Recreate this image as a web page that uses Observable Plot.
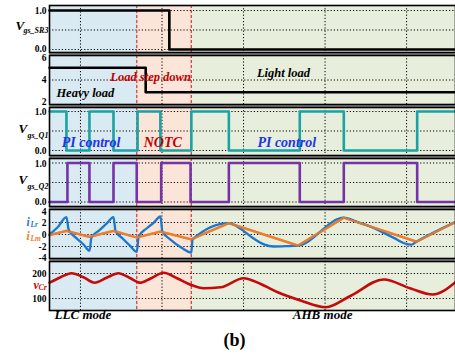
<!DOCTYPE html>
<html>
<head>
<meta charset="utf-8">
<script src="https://cdn.jsdelivr.net/npm/d3@7"></script>
<script src="https://cdn.jsdelivr.net/npm/@observablehq/plot@0.6"></script>
<style>
  body { margin: 0; background: #fff; }
  #fig { position: relative; width: 455px; height: 358px; overflow: hidden; background: #fff;
         font-family: "Liberation Serif", "DejaVu Serif", serif; }
  #fig .panel { position: absolute; left: 0; }
  #sep { position: absolute; left: 49px; top: 5px; width: 406px; height: 305px; background: #8a8a8a; }
  #cap { position: absolute; left: 0; top: 330px; width: 469px; text-align: center;
         font: bold 18px "Liberation Serif", serif; color: #000; }
</style>
</head>
<body>
<div id="fig"><div id="sep"></div><div id="cap">(b)</div></div>
<script>
// time axis (µs-like units) and shared vertical grid
const timeSpan = [-3.8, 46];
const gridTimes = [0, 10, 20, 30, 40];

// operating-mode regions and their boundaries
const regionName = ["LLC", "NOTC", "AHB"];
const regionStart = [-3.8, 6.9, 13.6];
const regionEnd = [6.9, 13.6, 46];
const boundaryTimes = [6.9, 13.6];

// SR3 gate signal
const sr3Time = [-3.8, 10.9, 46];
const sr3Value = [1, 0, 0];

// load level
const loadTime = [-3.8, 8.0, 46];
const loadValue = [5, 3, 3];

// Q1 / Q2 gate signals (switching instants)
const q1Time = [-3.8, -1.72, 1.1, 4.05, 7.0, 9.8, 13.6, 18.2, 26.9, 32.3, 41.3, 46];
const q1Value = [1, 0, 1, 0, 1, 0, 1, 0, 1, 0, 1, 1];
const q2Time = [-3.8, -1.6, 1.1, 4.05, 6.9, 9.9, 13.5, 18.2, 26.9, 32.3, 41.3, 46];
const q2Value = [0, 1, 0, 1, 0, 1, 0, 1, 0, 1, 0, 0];

// magnetizing current iLm
const iLmTime = [-3.8, -1.72, 1.1, 4.05, 6.9, 9.8, 13.6, 18.2, 26.7, 32.3, 41.2, 46];
const iLmValue = [-0.1, 0.6, -0.4, 0.6, -0.5, 0.5, -0.8, 1.9, -1.85, 2.8, -1.2, 2.1];

// resonant current iLr
const iLrTime = [-3.8, -2.8, -1.72, -1.45, -0.5, 0.4, 1.1, 1.35, 2.3, 3.2, 4.05, 4.3, 5.2, 6.1, 6.9,
                 7.15, 8.1, 9.0, 9.8, 10.05, 11.0, 12.4, 13.6, 13.75, 18.2, 19.0, 19.7, 20.9, 22.5,
                 23.7, 25.2, 26.7, 32.3, 34.0, 35.6, 37.0, 38.5, 39.8, 40.6, 41.2, 46];
const iLrValue = [0.0, 1.2, 2.9, 0.8, -0.6, -1.7, -2.7, -0.5, 0.7, 1.8, 2.9, 0.6, -0.7, -1.9, -2.9,
                  -0.3, 1.0, 2.0, 3.0, 0.5, -0.8, -2.2, -3.0, -0.8, 1.9, 1.5, 0.9, -0.35, -1.65,
                  -2.0, -1.95, -1.85, 2.8, 2.05, 1.3, 0.4, -0.6, -1.5, -1.7, -1.2, 2.1];

// resonant capacitor voltage vCr
const vCrTime = [-3.8, -2.45, -1.1, 0.37, 1.72, 3.2, 4.66, 6.0, 7.36, 8.6, 10.2, 11.9, 13.5, 15.1,
                 17.2, 20.0, 22.1, 24.2, 27.0, 30.1, 33.1, 37.2, 40.5, 43.2, 46];
const vCrValue = [163, 185, 201, 185, 163, 183, 201, 183, 163, 180, 203, 180, 155, 141,
                  145, 181, 158, 125, 92, 65, 110, 176, 140, 116, 165];

// annotations
const loadNoteText = ["Load step down", "Heavy load", "Light load"];
const loadNoteTime = [8.6, 0.6, 24.9];
const loadNoteLevel = [4.24, 2.96, 4.56];
const ctrlNoteText = ["PI control", "NOTC", "PI control"];
const ctrlNoteTime = [1.3, 10.1, 25.3];
const ctrlNoteLevel = [0.2, 0.2, 0.2];
const modeText = ["LLC mode", "AHB mode"];
const modeTime = [0.3, 29.7];

// ---- styling ----
const regionFill = ["#d9eaf3", "#fbe4d8", "#e7eedc"];
const serif = "'Liberation Serif', 'DejaVu Serif', serif";
const C = { q1: "#19a3a3", q2: "#7433a6", iLr: "#1d78c9", iLm: "#ee7d2c", vCr: "#c40a0a",
            red: "#c00000", blue: "#2233ee", dash: "#d9464d" };

const zipT = (ts, vs) => ts.map((t, i) => ({t, v: vs[i]}));
const regions = regionName.map((name, i) => ({name, start: regionStart[i], end: regionEnd[i]}));
const loadNotes = loadNoteText.map((label, i) => ({label, t: loadNoteTime[i], v: loadNoteLevel[i]}));
const ctrlNotes = ctrlNoteText.map((label, i) => ({label, t: ctrlNoteTime[i], v: ctrlNoteLevel[i]}));
const modes = modeText.map((label, i) => ({label, t: modeTime[i]}));

const labelStyle = {fontFamily: serif, fontWeight: "bold", fontStyle: "italic", textAnchor: "start"};
const tickStyle = {tickSize: 0, tickPadding: 3, fontSize: 9.5, fontWeight: "bold", fontFamily: serif, label: null};

// margin label built from a main letter and a subscript
function sideLabel(main, sub, o) {
  return [
    Plot.text([main], {...labelStyle, text: d => d, frameAnchor: "left", dx: o.dx, dy: o.dy,
                       fontSize: o.size ?? 13, fill: o.fill ?? "#000"}),
    Plot.text([sub], {...labelStyle, text: d => d, frameAnchor: "left", dx: o.sdx, dy: o.sdy,
                      fontSize: o.subSize ?? 8, fill: o.fill ?? "#000"})
  ];
}

// one y-axis per group of ticks, each group may be nudged vertically
function axes(groups, tickFormat) {
  return groups.map(([ticks, dy]) => Plot.axisY(ticks, {...tickStyle, tickFormat, dy}));
}

function panel({top, height, domain, tickGroups, grid, marks, tickFormat, marginBottom = 0}) {
  const svg = Plot.plot({
    width: 455,
    height: height + marginBottom,
    marginLeft: 49, marginRight: 0, marginTop: 0, marginBottom,
    style: {fontFamily: serif, fontSize: "10px", fontWeight: "bold", background: "transparent", overflow: "visible"},
    x: {domain: timeSpan, axis: null},
    y: {domain, axis: null},
    color: {domain: regionName, range: regionFill},
    marks: [
      Plot.rect(regions, {x1: "start", x2: "end", fill: "name"}),
      Plot.ruleX(gridTimes, {stroke: "#000", strokeWidth: 1, strokeDasharray: "1.2,2"}),
      Plot.ruleY(grid, {stroke: "#000", strokeWidth: 1, strokeDasharray: "1.2,2"}),
      Plot.ruleX(boundaryTimes, {stroke: C.dash, strokeWidth: 1.3, strokeDasharray: "3,2"}),
      ...marks,
      ...axes(tickGroups, tickFormat),
      Plot.frame({stroke: "#000", strokeWidth: 1.6})
    ]
  });
  svg.classList.add("panel");
  svg.style.top = top + "px";
  document.getElementById("fig").appendChild(svg);
}

const fmt1 = d => d.toFixed(1);

// Vgs_SR3
panel({
  top: 5, height: 47, domain: [-0.077, 1.128], tickGroups: [[[1], 0], [[0], -1]], grid: [0, 0.5, 1], tickFormat: fmt1,
  marks: [
    Plot.line(zipT(sr3Time, sr3Value), {x: "t", y: "v", curve: "step-after", stroke: "#000", strokeWidth: 2.6}),
    ...sideLabel("V", "gs_SR3", {dx: -34, dy: -3, sdx: -26, sdy: 1})
  ]
});

// load level
panel({
  top: 55, height: 49, domain: [2, 6], tickGroups: [[[6], 2], [[4], 0], [[2], -2.5]], grid: [4], tickFormat: d => d,
  marks: [
    Plot.line(zipT(loadTime, loadValue), {x: "t", y: "v", curve: "step-after", stroke: "#000", strokeWidth: 2.6}),
    Plot.text(loadNotes, {x: "t", y: "v", text: "label", fontSize: 12.5, fontStyle: "italic", fontWeight: "bold",
                          fontFamily: serif, fill: d => d.label.startsWith("Load") ? C.red : "#000"})
  ]
});

// Vgs_Q1
panel({
  top: 107, height: 48, domain: [-0.128, 1.103], tickGroups: [[[1], 0.5], [[0], 0]], grid: [0, 0.5, 1], tickFormat: fmt1,
  marks: [
    Plot.line(zipT(q1Time, q1Value), {x: "t", y: "v", curve: "step-after", stroke: C.q1, strokeWidth: 2.6}),
    Plot.text(ctrlNotes, {x: "t", y: "v", text: "label", fontSize: 14, fontStyle: "italic", fontWeight: "bold",
                          fontFamily: serif, fill: d => d.label === "NOTC" ? C.red : C.blue}),
    ...sideLabel("V", "gs_Q1", {dx: -31, dy: -2.5, sdx: -22, sdy: 3.5})
  ]
});

// Vgs_Q2
panel({
  top: 158, height: 48, domain: [-0.115, 1.115], tickGroups: [[[1], 0.5], [[0], 0]], grid: [0, 0.5, 1], tickFormat: fmt1,
  marks: [
    Plot.line(zipT(q2Time, q2Value), {x: "t", y: "v", curve: "step-after", stroke: C.q2, strokeWidth: 2.6}),
    ...sideLabel("V", "gs_Q2", {dx: -31, dy: -2.5, sdx: -22, sdy: 3.5})
  ]
});

// iLr / iLm
panel({
  top: 209, height: 49, domain: [-4, 4.17], tickGroups: [[[4], 1.5], [[-2, 0, 2], 0], [[-4], -1]], grid: [-2, 0, 2], tickFormat: d => d,
  marks: [
    Plot.line(zipT(iLmTime, iLmValue), {x: "t", y: "v", stroke: C.iLm, strokeWidth: 2.3}),
    Plot.line(zipT(iLrTime, iLrValue), {x: "t", y: "v", curve: "monotone-x", stroke: C.iLr, strokeWidth: 2.3}),
    Plot.line(zipT(iLmTime, iLmValue), {x: "t", y: "v", stroke: C.iLm, strokeWidth: 2.3, strokeOpacity: 0.85}),
    ...sideLabel("i", "Lr", {dx: -23, dy: -12, sdx: -19, sdy: -9, size: 11.5, subSize: 7.5, fill: C.iLr}),
    ...sideLabel("i", "Lm", {dx: -23, dy: 2.5, sdx: -19, sdy: 4.5, size: 11.5, subSize: 7.5, fill: C.iLm})
  ]
});

// vCr
panel({
  top: 261, height: 49, domain: [52, 248], tickGroups: [[[100, 200], 0]], grid: [100, 200], tickFormat: d => d,
  marginBottom: 20,
  marks: [
    Plot.line(zipT(vCrTime, vCrValue), {x: "t", y: "v", curve: "monotone-x", stroke: C.vCr, strokeWidth: 2.6}),
    ...sideLabel("v", "Cr", {dx: -16, dy: -1, sdx: -11, sdy: 1, size: 12, subSize: 8, fill: C.vCr}),
    Plot.text(modes, {x: "t", frameAnchor: "bottom", dy: 8, text: "label", fontSize: 13, fontStyle: "italic",
                      fontWeight: "bold", fontFamily: serif, fill: "#000"})
  ]
});
</script>
</body>
</html>
